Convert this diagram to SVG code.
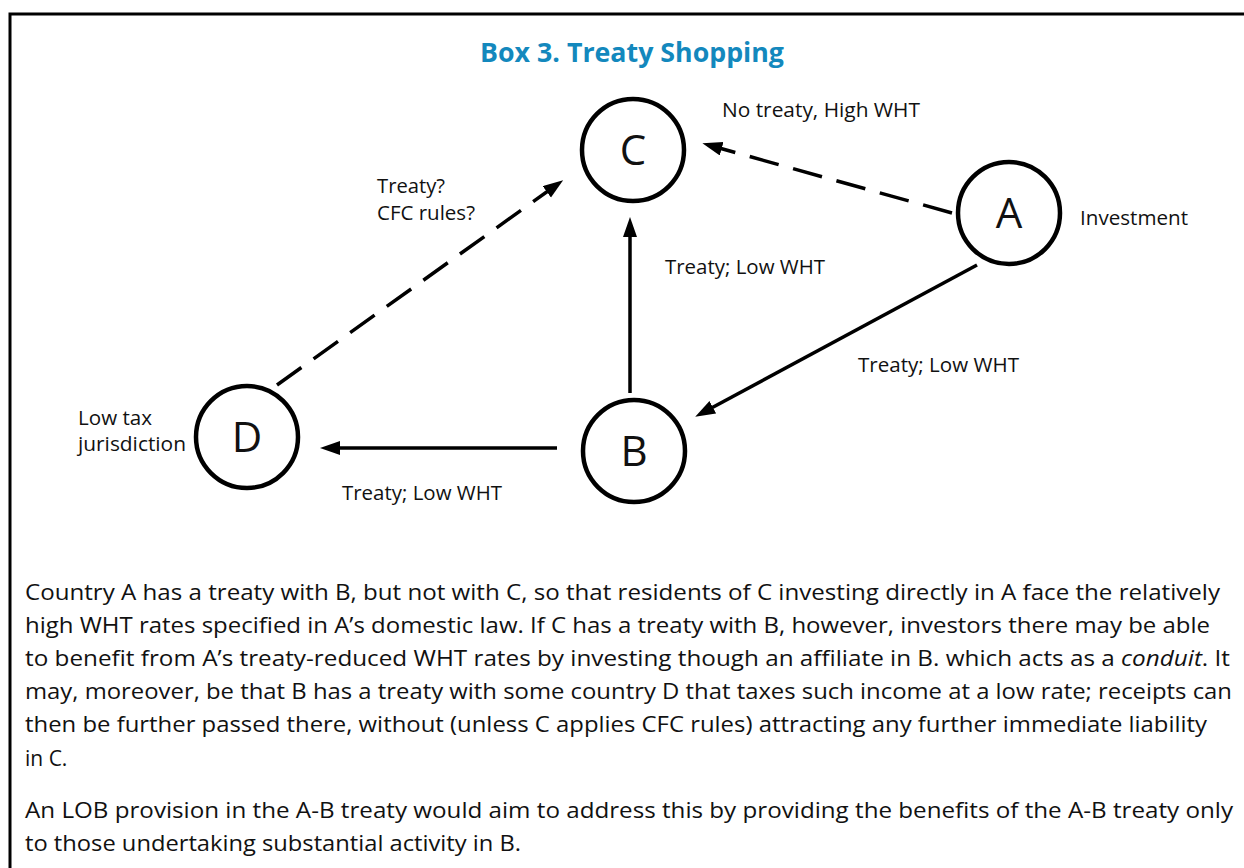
<svg xmlns="http://www.w3.org/2000/svg" width="1244" height="868" viewBox="0 0 1244 868">
<style>
.frame{fill:none;stroke:#000;stroke-width:3}
.node{fill:#fff;stroke:#000;stroke-width:4.5}
.letter{font-family:"Open Sans","Noto Sans",sans-serif;font-size:42px;fill:#111;text-anchor:middle}
.lbl{font-family:"Open Sans","Noto Sans",sans-serif;font-size:19.5px;fill:#111}
.body{font-family:"Open Sans","Noto Sans",sans-serif;font-size:21px;fill:#111}
.title{font-family:"Open Sans","Noto Sans",sans-serif;font-size:26px;font-weight:bold;fill:#1388bd;text-anchor:middle}
.solid{fill:none;stroke:#000;stroke-width:3.5;marker-end:url(#ah)}
.dash{fill:none;stroke:#000;stroke-width:3.5;stroke-dasharray:30 15;marker-end:url(#ah)}
</style>
<defs>
<marker id="ah" markerUnits="userSpaceOnUse" markerWidth="22" markerHeight="16" refX="10" refY="7" orient="auto">
<path d="M0,0 L20,7 L0,14 z" fill="#000"/>
</marker>
</defs>
<rect width="1244" height="868" fill="#fff"/>
<path class="frame" d="M10,868 V14 H1244"/>
<text class="title" x="632" y="62" textLength="304" lengthAdjust="spacingAndGlyphs">Box 3. Treaty Shopping</text>
<g id="connectors">
<path class="dash" d="M952,213 L712,146"/>
<path class="solid" d="M977,265 L704,412"/>
<path class="solid" d="M630,393 L630,227"/>
<path class="solid" d="M557,448 L330,448"/>
<path class="dash" d="M277,385 L555,186"/>
</g>
<g id="node-C"><circle class="node" cx="633" cy="150" r="51"/><text class="letter" x="633" y="165">C</text></g>
<g id="node-A"><circle class="node" cx="1009" cy="213" r="51"/><text class="letter" x="1009" y="228">A</text></g>
<g id="node-B"><circle class="node" cx="634" cy="451" r="51"/><text class="letter" x="634" y="466">B</text></g>
<g id="node-D"><circle class="node" cx="247" cy="437" r="51"/><text class="letter" x="247" y="452">D</text></g>
<g id="labels">
<text class="lbl" x="722" y="117" textLength="198" lengthAdjust="spacingAndGlyphs">No treaty, High WHT</text>
<text class="lbl" x="1080" y="225" textLength="108" lengthAdjust="spacingAndGlyphs">Investment</text>
<text class="lbl" x="377" y="193" textLength="68" lengthAdjust="spacingAndGlyphs">Treaty?</text>
<text class="lbl" x="377" y="220" textLength="98" lengthAdjust="spacingAndGlyphs">CFC rules?</text>
<text class="lbl" x="665" y="274" textLength="160" lengthAdjust="spacingAndGlyphs">Treaty; Low WHT</text>
<text class="lbl" x="858" y="372" textLength="161" lengthAdjust="spacingAndGlyphs">Treaty; Low WHT</text>
<text class="lbl" x="78" y="425" textLength="74" lengthAdjust="spacingAndGlyphs">Low tax</text>
<text class="lbl" x="78" y="451" textLength="108" lengthAdjust="spacingAndGlyphs">jurisdiction</text>
<text class="lbl" x="342" y="500" textLength="160" lengthAdjust="spacingAndGlyphs">Treaty; Low WHT</text>
</g>
<g id="text">
<text class="body" x="25" y="600" textLength="1195" lengthAdjust="spacingAndGlyphs">Country A has a treaty with B, but not with C, so that residents of C investing directly in A face the relatively</text>
<text class="body" x="25" y="633" textLength="1185" lengthAdjust="spacingAndGlyphs">high WHT rates specified in A’s domestic law. If C has a treaty with B, however, investors there may be able</text>
<text class="body" x="25" y="666" textLength="1205" lengthAdjust="spacingAndGlyphs">to benefit from A’s treaty-reduced WHT rates by investing though an affiliate in B. which acts as a <tspan font-style="italic">conduit</tspan>. It</text>
<text class="body" x="25" y="699" textLength="1207" lengthAdjust="spacingAndGlyphs">may, moreover, be that B has a treaty with some country D that taxes such income at a low rate; receipts can</text>
<text class="body" x="25" y="732" textLength="1182" lengthAdjust="spacingAndGlyphs">then be further passed there, without (unless C applies CFC rules) attracting any further immediate liability</text>
<text class="body" x="25" y="766">in C.</text>
<text class="body" x="25" y="818" textLength="1208" lengthAdjust="spacingAndGlyphs">An LOB provision in the A-B treaty would aim to address this by providing the benefits of the A-B treaty only</text>
<text class="body" x="25" y="851" textLength="496" lengthAdjust="spacingAndGlyphs">to those undertaking substantial activity in B.</text>
</g>
</svg>
